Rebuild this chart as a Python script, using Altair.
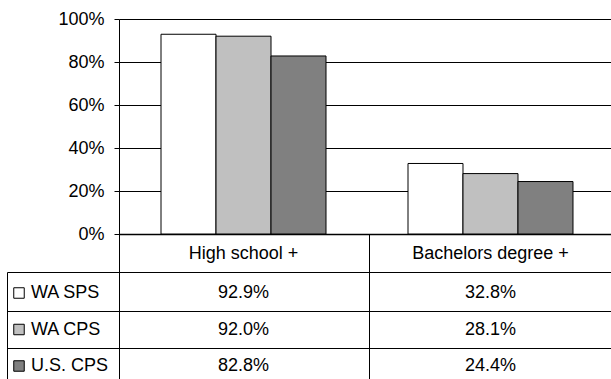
import altair as alt
import pandas as pd

# Educational attainment by survey source
categories = ["High school +", "Bachelors degree +"]
series = ["WA SPS", "WA CPS", "U.S. CPS"]
high_school = [92.9, 92.0, 82.8]
bachelors = [32.8, 28.1, 24.4]
series_colors = ["#FFFFFF", "#C0C0C0", "#808080"]
y_ticks = [0, 20, 40, 60, 80, 100]

FONT = "Liberation Sans"
FS = 18

rows = []
for s, hs, ba in zip(series, high_school, bachelors):
    rows.append({"category": categories[0], "series": s, "value": hs})
    rows.append({"category": categories[1], "series": s, "value": ba})
df = pd.DataFrame(rows)
df["label"] = df["value"].map(lambda v: f"{v:.1f}%")

cat_df = pd.DataFrame({"category": categories})
series_df = pd.DataFrame({"series": series})
one = pd.DataFrame({"k": [0]})

x_scale = alt.Scale(domain=categories, paddingInner=0.332, paddingOuter=0.162, align=0.525)
color_scale = alt.Scale(domain=series, range=series_colors)

bars = alt.Chart(df).mark_bar(stroke="black", strokeWidth=1, opacity=1).encode(
    x=alt.X("category:N", scale=x_scale, sort=categories,
            axis=alt.Axis(title=None, labels=False, ticks=False, grid=False,
                          domain=True, domainColor="black", domainWidth=1.5)),
    xOffset=alt.XOffset("series:N", sort=series,
                        scale=alt.Scale(domain=series, paddingInner=0, paddingOuter=0)),
    y=alt.Y("value:Q", scale=alt.Scale(domain=[0, 100], nice=False),
            axis=alt.Axis(values=y_ticks, labelExpr="datum.value + '%'", title=None,
                          grid=True, gridColor="black", gridWidth=1, gridOpacity=1,
                          tickSize=5, tickColor="black", tickWidth=1,
                          domainColor="black", domainWidth=1,
                          labelFont=FONT, labelFontSize=FS, labelColor="black",
                          labelPadding=10)),
    fill=alt.Fill("series:N", scale=color_scale, legend=None),
)

layers = [bars]

# table grid lines below the plot
line_style = dict(color="black", strokeWidth=1)
for yy in [253.5, 292.5, 329.5]:
    layers.append(alt.Chart(one).mark_rule(**line_style).encode(
        x=alt.value(-111.5), x2=alt.value(500), y=alt.value(yy)))
for xx, y_top in [(-111.5, 253.5), (0.5, 215), (250.5, 215)]:
    layers.append(alt.Chart(one).mark_rule(**line_style).encode(
        x=alt.value(xx), y=alt.value(y_top), y2=alt.value(370)))

# column headers
layers.append(alt.Chart(cat_df).mark_text(font=FONT, fontSize=FS, color="black",
                                          baseline="middle").encode(
    x=alt.X("category:N", scale=x_scale, sort=categories), y=alt.value(234.5),
    text="category:N"))

# table rows: legend key, series name and values
row_y = [274, 310.5, 347]
for s, ry in zip(series, row_y):
    layers.append(alt.Chart(series_df).transform_filter(alt.datum.series == s)
                  .mark_square(size=110, stroke="black", strokeWidth=1, opacity=1,
                               filled=True).encode(
        x=alt.value(-100), y=alt.value(ry),
        fill=alt.Fill("series:N", scale=color_scale, legend=None)))
    layers.append(alt.Chart(series_df).transform_filter(alt.datum.series == s)
                  .mark_text(font=FONT, fontSize=FS, color="black", align="left",
                             baseline="middle").encode(
        x=alt.value(-88), y=alt.value(ry), text="series:N"))
    layers.append(alt.Chart(df).transform_filter(alt.datum.series == s)
                  .mark_text(font=FONT, fontSize=FS, color="black",
                             baseline="middle").encode(
        x=alt.X("category:N", scale=x_scale, sort=categories), y=alt.value(ry),
        text="label:N"))

chart = alt.layer(*layers).properties(
    width=492, height=215,
    autosize=alt.AutoSizeParams(type="none"),
    padding={"left": 119, "top": 19, "right": 0, "bottom": 145},
).configure_view(stroke=None).configure(background="white")

chart.save("out.html", embed_options={"renderer": "svg", "actions": False})
